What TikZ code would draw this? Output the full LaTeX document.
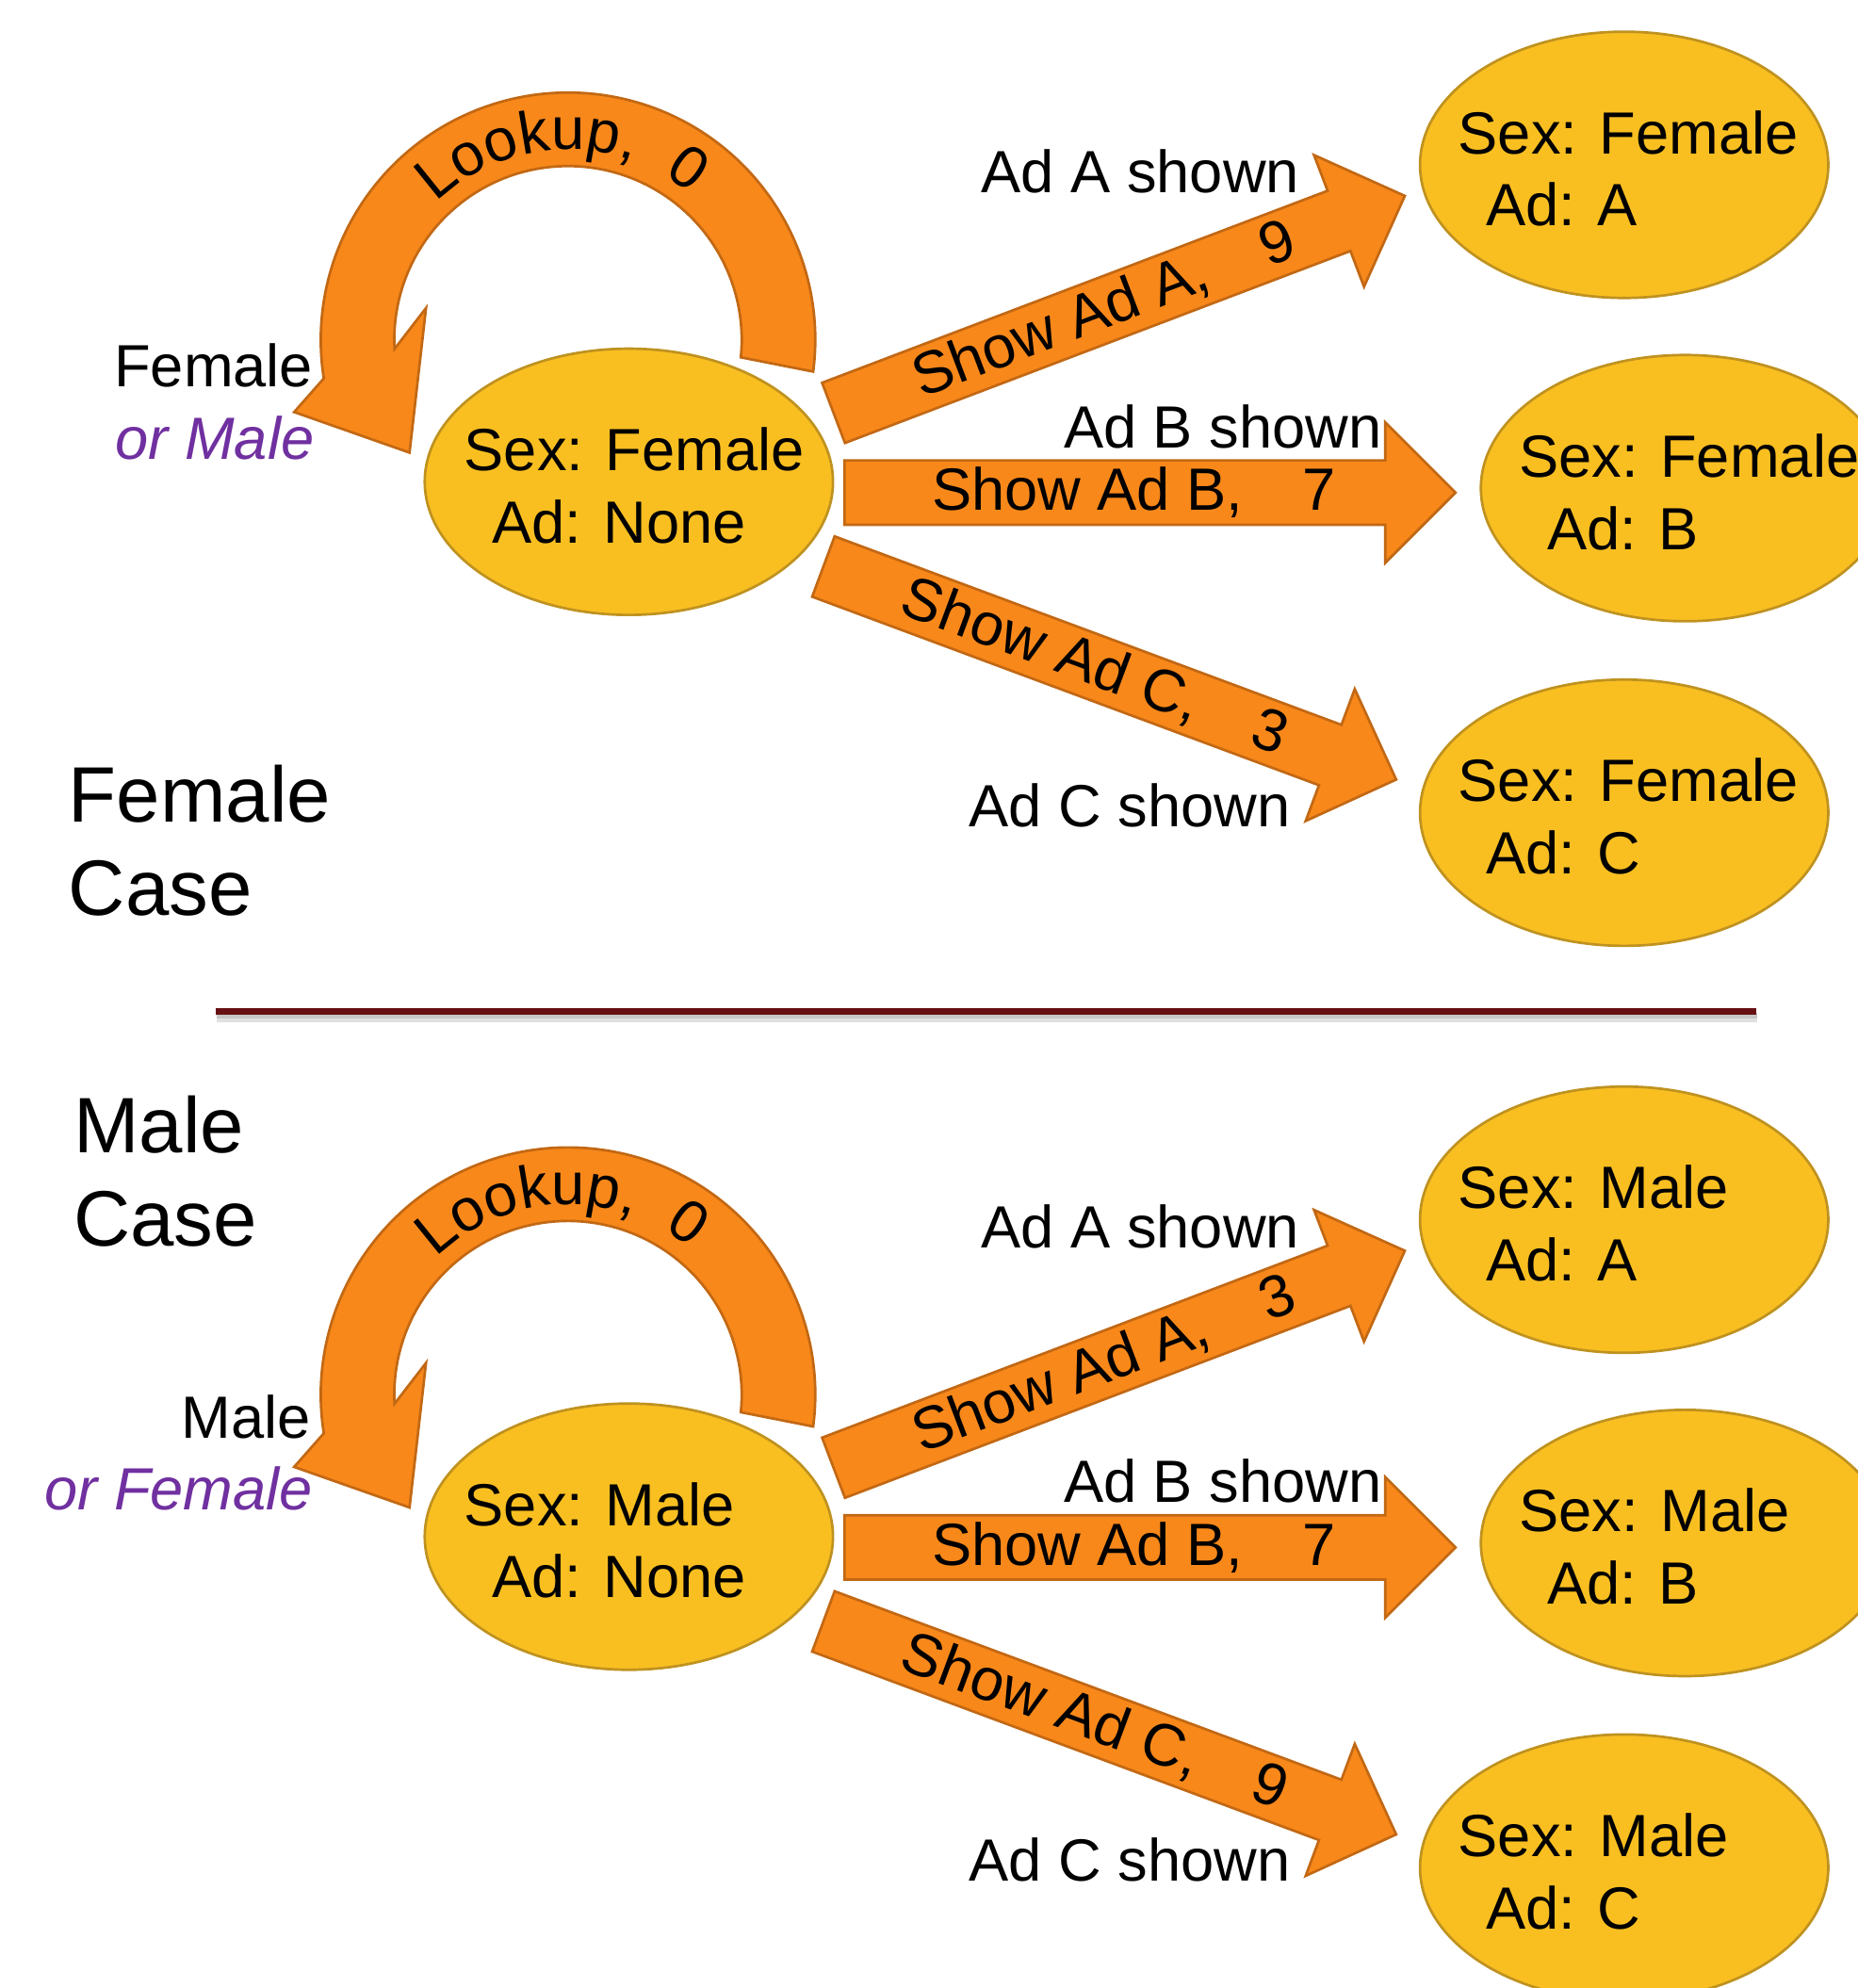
\documentclass[tikz,border=0pt]{standalone}
\usepackage{fontspec}
\setmainfont{Liberation Sans}
\usepackage{tikz}
\usetikzlibrary{shapes, shapes.arrows, positioning, calc, decorations.text}

\definecolor{stategold}{RGB}{249,191,33}
\definecolor{stateedge}{RGB}{191,146,32}
\definecolor{arroworange}{RGB}{248,136,26}
\definecolor{arrowedge}{RGB}{194,104,20}
\definecolor{orpurple}{RGB}{112,48,160}
\definecolor{rulered}{RGB}{102,16,20}

\begin{document}
\begin{tikzpicture}[
        x=1pt, y=1pt,
        % everything is set in one big sans size
        font=\fontsize{47}{57}\selectfont,
        state/.style={ellipse, draw=stateedge, fill=stategold, line width=2pt,
            minimum width=322pt, minimum height=210pt},
        statetext/.style={align=left, anchor=west, inner sep=0pt},
        blockarrow/.style={single arrow, draw=arrowedge, fill=arroworange,
            line width=2pt, anchor=tail, minimum height=482pt, minimum width=111pt,
            single arrow head extend=28.5pt, inner sep=3pt},
        looparrow/.style={draw=arrowedge, fill=arroworange, line width=2pt},
        shown/.style={anchor=base east, inner sep=0pt},
        orlabel/.style={shown, text=orpurple,
            font=\fontsize{47}{57}\selectfont\itshape},
        casetitle/.style={align=left, anchor=north west, inner sep=0pt,
            font=\fontsize{62}{74}\selectfont}
    ]
    \useasboundingbox (0,0) rectangle (1465,-1568);

    % ---------------- female case ----------------
    \node[state] (female) at (496,-380) {};
    \node[statetext] (femaletext) at ($(female.center)+(-130,-3)$)
        {Sex: Female\\\hspace*{22pt}Ad: None};
    \node[state] (femaleA) at (1281,-130) {};
    \node[statetext] (femaleAtext) at ($(femaleA.center)+(-131,-3)$)
        {Sex: Female\\\hspace*{22pt}Ad: A};
    \node[state] (femaleB) at (1329,-385) {};
    \node[statetext] (femaleBtext) at ($(femaleB.center)+(-131,-3)$)
        {Sex: Female\\\hspace*{22pt}Ad: B};
    \node[state] (femaleC) at (1281,-641) {};
    \node[statetext] (femaleCtext) at ($(femaleC.center)+(-131,-3)$)
        {Sex: Female\\\hspace*{22pt}Ad: C};

    % the lookup loop is a bent block arrow, drawn by hand
    \coordinate (femaleloop) at ($(female.center)+(-48,112)$);
    \filldraw[looparrow] ($(femaleloop)+(-7.4:195)$)
        arc[start angle=-7.4, end angle=189, radius=195]
        -- ($(femaleloop)+(-216,-57)$) -- ($(femaleloop)+(-125,-89)$)
        -- ($(femaleloop)+(-112,25)$) -- ($(femaleloop)+(183:137)$)
        arc[start angle=183, end angle=-5.8, radius=137] -- cycle;
    \path[decorate, decoration={text along path, text align=center,
            text={|\fontsize{47}{57}\selectfont|Lookup,~~0}}]
        ($(femaleloop)+(165:150)$) arc[start angle=165, end angle=19, radius=150];
    \node[shown] (femalein) at (247,-305) {Female};
    \node[orlabel] (femaleor) at (248,-362) {or Male};

    \node[blockarrow, rotate=20.8] (femaleshowA) at ($(female.center)+(160.5,54)$)
        {Show Ad A,\hspace{1em}9};
    \node[blockarrow] (femaleshowB) at ($(female.center)+(169,-8.5)$)
        {Show Ad B,\hspace{1em}7};
    \node[blockarrow, rotate=-20.4] (femaleshowC) at ($(female.center)+(152.5,-66.5)$)
        {Show Ad C,\hspace{1em}3};
    \node[shown] (femaleshownA) at (1025,-152) {Ad A shown};
    \node[shown] (femaleshownB) at (1090,-353) {Ad B shown};
    \node[shown] (femaleshownC) at (1018,-652) {Ad C shown};

    \node[casetitle] (femalecase) at (54,-603) {Female\\Case};

    % divider with a soft shadow
    \draw[black!12, line width=7pt] (171,-803) -- (1386,-803);
    \draw[black!22, line width=4pt] (171,-801) -- (1386,-801);
    \draw[rulered, line width=5pt] (170,-798) -- (1385,-798);

    % ---------------- male case ----------------
    \node[casetitle] (malecase) at (58,-864) {Male\\Case};

    \node[state] (male) at (496,-1212) {};
    \node[statetext] (maletext) at ($(male.center)+(-130,-3)$)
        {Sex: Male\\\hspace*{22pt}Ad: None};
    \node[state] (maleA) at (1281,-962) {};
    \node[statetext] (maleAtext) at ($(maleA.center)+(-131,-3)$)
        {Sex: Male\\\hspace*{22pt}Ad: A};
    \node[state] (maleB) at (1329,-1217) {};
    \node[statetext] (maleBtext) at ($(maleB.center)+(-131,-3)$)
        {Sex: Male\\\hspace*{22pt}Ad: B};
    \node[state] (maleC) at (1281,-1473) {};
    \node[statetext] (maleCtext) at ($(maleC.center)+(-131,-3)$)
        {Sex: Male\\\hspace*{22pt}Ad: C};

    \coordinate (maleloop) at ($(male.center)+(-48,112)$);
    \filldraw[looparrow] ($(maleloop)+(-7.4:195)$)
        arc[start angle=-7.4, end angle=189, radius=195]
        -- ($(maleloop)+(-216,-57)$) -- ($(maleloop)+(-125,-89)$)
        -- ($(maleloop)+(-112,25)$) -- ($(maleloop)+(183:137)$)
        arc[start angle=183, end angle=-5.8, radius=137] -- cycle;
    \path[decorate, decoration={text along path, text align=center,
            text={|\fontsize{47}{57}\selectfont|Lookup,~~0}}]
        ($(maleloop)+(165:150)$) arc[start angle=165, end angle=19, radius=150];
    \node[shown] (malein) at (245,-1134) {Male};
    \node[orlabel] (maleor) at (247,-1191) {or Female};

    \node[blockarrow, rotate=20.8] (maleshowA) at ($(male.center)+(160.5,54)$)
        {Show Ad A,\hspace{1em}3};
    \node[blockarrow] (maleshowB) at ($(male.center)+(169,-8.5)$)
        {Show Ad B,\hspace{1em}7};
    \node[blockarrow, rotate=-20.4] (maleshowC) at ($(male.center)+(152.5,-66.5)$)
        {Show Ad C,\hspace{1em}9};
    \node[shown] (maleshownA) at (1025,-984) {Ad A shown};
    \node[shown] (maleshownB) at (1090,-1185) {Ad B shown};
    \node[shown] (maleshownC) at (1018,-1484) {Ad C shown};
\end{tikzpicture}
\end{document}
